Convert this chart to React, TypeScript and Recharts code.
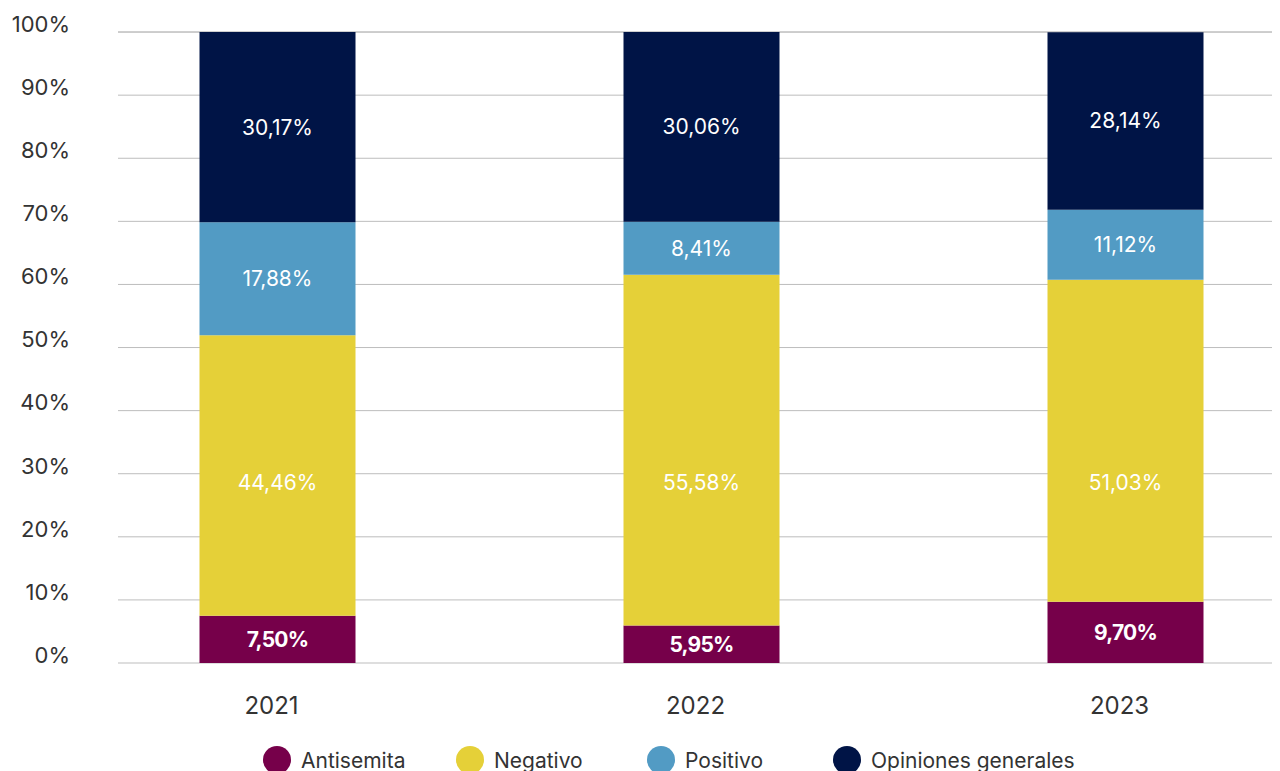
import { Bar, BarChart, CartesianGrid, LabelList, Legend, XAxis, YAxis } from 'recharts';

const years = ['2021', '2022', '2023'];
const antisemita = [7.5, 5.95, 9.7];
const negativo = [44.46, 55.58, 51.03];
const positivo = [17.88, 8.41, 11.12];
const opiniones = [30.17, 30.06, 28.14];
const yTicks = [0, 10, 20, 30, 40, 50, 60, 70, 80, 90, 100];

// the yellow labels all sit at the same height in the original (around the 28.6% line)
const NEG_LABEL_AT = 28.6;

const series = [
  { key: 'antisemita', name: 'Antisemita', color: '#76004a', bold: true, legendW: 193 },
  { key: 'negativo', name: 'Negativo', color: '#e5d038', bold: false, legendW: 191 },
  { key: 'positivo', name: 'Positivo', color: '#529bc4', bold: false, legendW: 186 },
  { key: 'opiniones', name: 'Opiniones generales', color: '#001446', bold: false, legendW: 240 },
];

const data = years.map((year, i) => ({
  year,
  antisemita: antisemita[i],
  negativo: negativo[i],
  positivo: positivo[i],
  opiniones: opiniones[i],
}));

const fmt = (v: unknown) => `${Number(v).toFixed(2).replace('.', ',')}%`;

const NegLabel = (props: any) => {
  const vb = props.viewBox || props;
  const { x, y, width, height } = vb;
  const value = Number(props.value);
  const i = props.index ?? 0;
  const ppu = height / value;
  const base = y + height + antisemita[i] * ppu;
  const ly = base - NEG_LABEL_AT * ppu;
  return (
    <text
      x={x + width / 2}
      y={ly}
      textAnchor="middle"
      dominantBaseline="central"
      fill="#fff"
      fontSize={21}
    >
      {fmt(value)}
    </text>
  );
};

const LegendContent = () => (
  <div style={{ display: 'flex', paddingLeft: 255, fontFamily: 'Inter', fontSize: 21, color: '#333' }}>
    {series.map((s) => (
      <div key={s.key} style={{ display: 'flex', alignItems: 'center', width: s.legendW }}>
        <span
          style={{
            width: 28,
            height: 28,
            borderRadius: 14,
            background: s.color,
            marginRight: 10,
            flexShrink: 0,
          }}
        />
        <span style={{ whiteSpace: 'nowrap' }}>{s.name}</span>
      </div>
    ))}
  </div>
);

const App = () => {
  return (
    <div style={{ fontFamily: 'Inter' }}>
      <BarChart
        width={1272}
        height={790}
        data={data}
        margin={{ top: 24, right: 0, bottom: 47, left: 0 }}
      >
        <CartesianGrid vertical={false} stroke="#bdbdbd" strokeWidth={1} />
        <XAxis
          dataKey="year"
          padding={{ left: -52.5, right: -57.5 }}
          axisLine={false}
          tickLine={false}
          tickSize={0}
          tickMargin={34}
          height={60}
          tick={{ fontSize: 24, fill: '#333', dx: -6 }}
        />
        <YAxis
          domain={[0, 100]}
          ticks={yTicks}
          width={110}
          axisLine={false}
          tickLine={false}
          tickSize={0}
          tickMargin={48}
          tickFormatter={(v) => `${v}%`}
          tick={{ fontSize: 22, fill: '#333', dy: -8 }}
        />
        <Legend
          verticalAlign="bottom"
          content={<LegendContent />}
          wrapperStyle={{ top: 738, left: 0, width: 1272 }}
        />
        {series.map((s) => (
          <Bar
            key={s.key}
            dataKey={s.key}
            name={s.name}
            stackId="a"
            fill={s.color}
            barSize={156}
            isAnimationActive={false}
          >
            {s.key === 'negativo' ? (
              <LabelList dataKey={s.key} content={<NegLabel />} />
            ) : (
              <LabelList
                dataKey={s.key}
                position="center"
                formatter={fmt}
                fill="#fff"
                fontSize={21}
                fontWeight={s.bold ? 700 : 400}
                letterSpacing={s.bold ? -0.8 : 0}
              />
            )}
          </Bar>
        ))}
      </BarChart>
    </div>
  );
};

export default App;
